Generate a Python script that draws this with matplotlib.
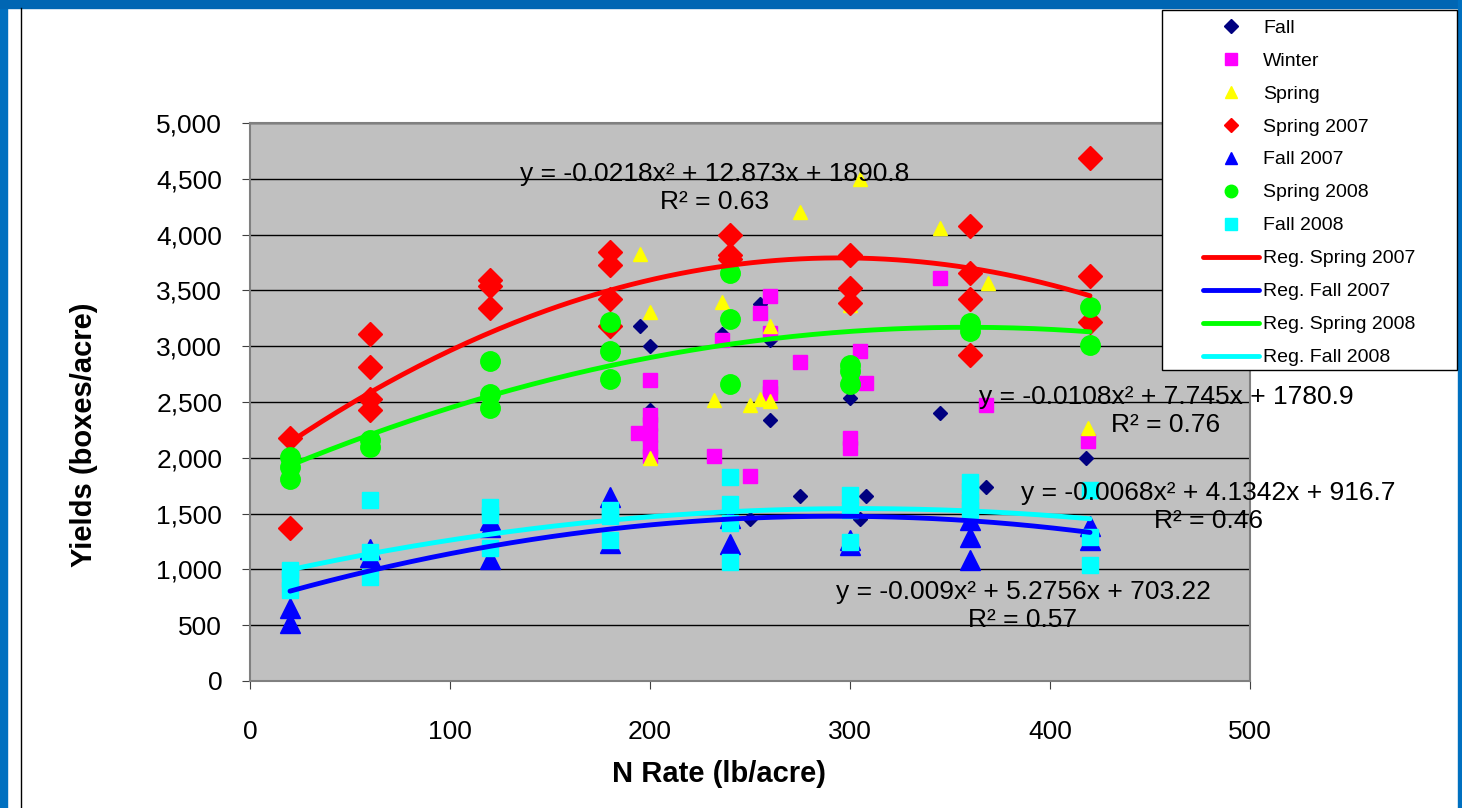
import matplotlib.pyplot as plt
import matplotlib.patches as mpatches
from matplotlib.lines import Line2D
from matplotlib.ticker import StrMethodFormatter
import numpy as np

plt.rcParams['font.family'] = ['Liberation Sans', 'DejaVu Sans']

# scatter series (N rate lb/acre, yield boxes/acre)
fall_x = [195, 200, 200, 236, 255, 260, 260, 300, 250, 275, 305, 308, 345, 368, 418]
fall_y = [3180, 3000, 2430, 3110, 3380, 3060, 2340, 2540, 1450, 1660, 1450, 1660, 2400, 1740, 2000]

winter_x = [194, 200, 200, 200, 200, 200, 200, 232, 236, 250, 255, 260, 260, 260, 260, 275,
            300, 300, 305, 308, 345, 368, 419]
winter_y = [2220, 2700, 2380, 2300, 2200, 2100, 2020, 2020, 3060, 1840, 3300, 3450, 3120, 2630, 2580, 2860,
            2180, 2090, 2960, 2670, 3610, 2470, 2150]

spring_x = [195, 200, 200, 236, 232, 250, 255, 260, 260, 275, 305, 300, 345, 369, 419]
spring_y = [3830, 3310, 2000, 3400, 2520, 2470, 2530, 2510, 3180, 4200, 4500, 3370, 4060, 3570, 2270]

sp07_x = [20, 20, 60, 60, 60, 60, 120, 120, 120, 180, 180, 180, 180, 240, 240, 240,
          300, 300, 300, 360, 360, 360, 360, 420, 420, 420]
sp07_y = [2180, 1370, 3110, 2810, 2530, 2430, 3590, 3540, 3340, 3840, 3730, 3420, 3180, 4000, 3820, 3780,
          3820, 3520, 3390, 4080, 3660, 3420, 2920, 4690, 3630, 3220]

fa07_x = [20, 20, 60, 60, 120, 120, 120, 180, 180, 240, 240, 300, 300, 360, 360, 360, 420, 420]
fa07_y = [650, 520, 1110, 1180, 1440, 1380, 1090, 1650, 1240, 1230, 1460, 1260, 1220, 1440, 1290, 1080, 1390, 1260]

sp08_x = [20, 20, 20, 60, 60, 120, 120, 120, 180, 180, 180, 240, 240, 240, 300, 300, 300, 360, 360, 420, 420]
sp08_y = [2010, 1920, 1810, 2160, 2100, 2870, 2570, 2450, 3220, 2960, 2710, 3660, 3240, 2660,
          2830, 2780, 2660, 3210, 3140, 3350, 3010]

fa08_x = [20, 20, 20, 60, 60, 60, 120, 120, 120, 180, 180, 180, 240, 240, 240, 240,
          300, 300, 300, 360, 360, 360, 360, 420, 420, 420]
fa08_y = [995, 910, 815, 1620, 1160, 935, 1560, 1490, 1190, 1530, 1480, 1260, 1830, 1590, 1420, 1070,
          1670, 1530, 1250, 1780, 1700, 1600, 1530, 1710, 1290, 1040]

# Excel polynomial trendlines (a, b, c) and their labels
reg_names = ['Reg. Spring 2007', 'Reg. Fall 2007', 'Reg. Spring 2008', 'Reg. Fall 2008']
reg_coefs = [[-0.0218, 12.873, 1890.8], [-0.009, 5.2756, 703.22],
             [-0.0108, 7.745, 1780.9], [-0.0068, 4.1342, 916.7]]
reg_text = ['y = -0.0218x² + 12.873x + 1890.8\nR² = 0.63',
            'y = -0.009x² + 5.2756x + 703.22\nR² = 0.57',
            'y = -0.0108x² + 7.745x + 1780.9\nR² = 0.76',
            'y = -0.0068x² + 4.1342x + 916.7\nR² = 0.46']
reg_text_pos = [(232.5, 4418), (386.5, 672), (458, 2419), (479, 1559)]

fig = plt.figure(figsize=(14.62, 8.08), dpi=100)
fig.patch.set_facecolor('white')

# slide frame
fig.add_artist(mpatches.Rectangle((0, 0), 7 / 1462, 1, transform=fig.transFigure, color='#0070C0', zorder=0))
fig.add_artist(mpatches.Rectangle((0, 1 - 8 / 808), 1, 8 / 808, transform=fig.transFigure, color='#0066B3', zorder=0))
fig.add_artist(mpatches.Rectangle((1 - 4 / 1462, 0), 4 / 1462, 1, transform=fig.transFigure, color='#0070C0', zorder=0))
fig.add_artist(Line2D([21 / 1462, 21 / 1462], [0, 1 - 8 / 808], transform=fig.transFigure, color='black', lw=1))

ax = fig.add_axes([250 / 1462, 127 / 808, 1000 / 1462, 558 / 808])
ax.set_facecolor('#C0C0C0')

ax.plot(fall_x, fall_y, 'D', color='#000080', ms=7.5, ls='none', label='Fall')
ax.plot(winter_x, winter_y, 's', color='#FF00FF', ms=10.5, ls='none', label='Winter')
ax.plot(spring_x, spring_y, '^', color='#FFFF00', ms=10.5, ls='none', label='Spring')
ax.plot(sp07_x, sp07_y, 'D', color='#FF0000', ms=12, ls='none', label='Spring 2007')
ax.plot(fa07_x, fa07_y, '^', color='#0000FF', ms=14, ls='none', label='Fall 2007')
ax.plot(sp08_x, sp08_y, 'o', color='#00FF00', ms=14, ls='none', label='Spring 2008')
ax.plot(fa08_x, fa08_y, 's', color='#00FFFF', ms=11, ls='none', label='Fall 2008')

reg_colors = ['#FF0000', '#0000FF', '#00FF00', '#00FFFF']
xs = np.linspace(20, 420, 200)
for name, coefs, col in zip(reg_names, reg_coefs, reg_colors):
    ax.plot(xs, np.polyval(coefs, xs), color=col, lw=3.5, solid_capstyle='round', label=name)

for txt, (tx, ty) in zip(reg_text, reg_text_pos):
    ax.text(tx, ty, txt, ha='center', va='center', multialignment='center', fontsize=19, linespacing=1.25)

ax.set_xlim(0, 500)
ax.set_ylim(0, 5000)
ax.set_xticks(np.arange(0, 501, 100))
ax.set_yticks(np.arange(0, 5001, 500))
ax.yaxis.set_major_formatter(StrMethodFormatter('{x:,.0f}'))
ax.grid(axis='y', color='black', lw=1)
ax.set_axisbelow(True)
for s in ax.spines.values():
    s.set_color('#808080')
    s.set_linewidth(1.5)
ax.tick_params(axis='both', direction='out', length=6, color='#404040', labelsize=19)
ax.tick_params(axis='y', pad=14)
ax.tick_params(axis='x', pad=22)

ax.set_xlabel('N Rate (lb/acre)', fontsize=21, fontweight='bold')
ax.set_ylabel('Yields (boxes/acre)', fontsize=21, fontweight='bold')
ax.xaxis.set_label_coords(0.469, -0.142)
ax.yaxis.set_label_coords(-0.152, 0.441)

# legend with Excel-like sizes
handles = [
    Line2D([], [], marker='D', color='#000080', ls='none', ms=7),
    Line2D([], [], marker='s', color='#FF00FF', ls='none', ms=8.5),
    Line2D([], [], marker='^', color='#FFFF00', ls='none', ms=8.5),
    Line2D([], [], marker='D', color='#FF0000', ls='none', ms=7),
    Line2D([], [], marker='^', color='#0000FF', ls='none', ms=8.5),
    Line2D([], [], marker='o', color='#00FF00', ls='none', ms=9),
    Line2D([], [], marker='s', color='#00FFFF', ls='none', ms=8.5),
] + [Line2D([], [], color=c, lw=3.5, solid_capstyle='round') for c in reg_colors]
labels = ['Fall', 'Winter', 'Spring', 'Spring 2007', 'Fall 2007', 'Spring 2008', 'Fall 2008'] + reg_names

fig.add_artist(mpatches.Rectangle((1162 / 1462, 1 - 370 / 808), 295 / 1462, 360 / 808,
                                  transform=fig.transFigure, facecolor='white', edgecolor='black', lw=1, zorder=4))
leg = fig.legend(handles, labels, loc='upper left', bbox_to_anchor=(1203 / 1462, 1 - 19 / 808),
                 frameon=False, fontsize=14, handlelength=2.9, handletextpad=0.2,
                 labelspacing=0.79, borderpad=0, borderaxespad=0)
leg.set_zorder(5)

fig.savefig('out.png', dpi=100)
